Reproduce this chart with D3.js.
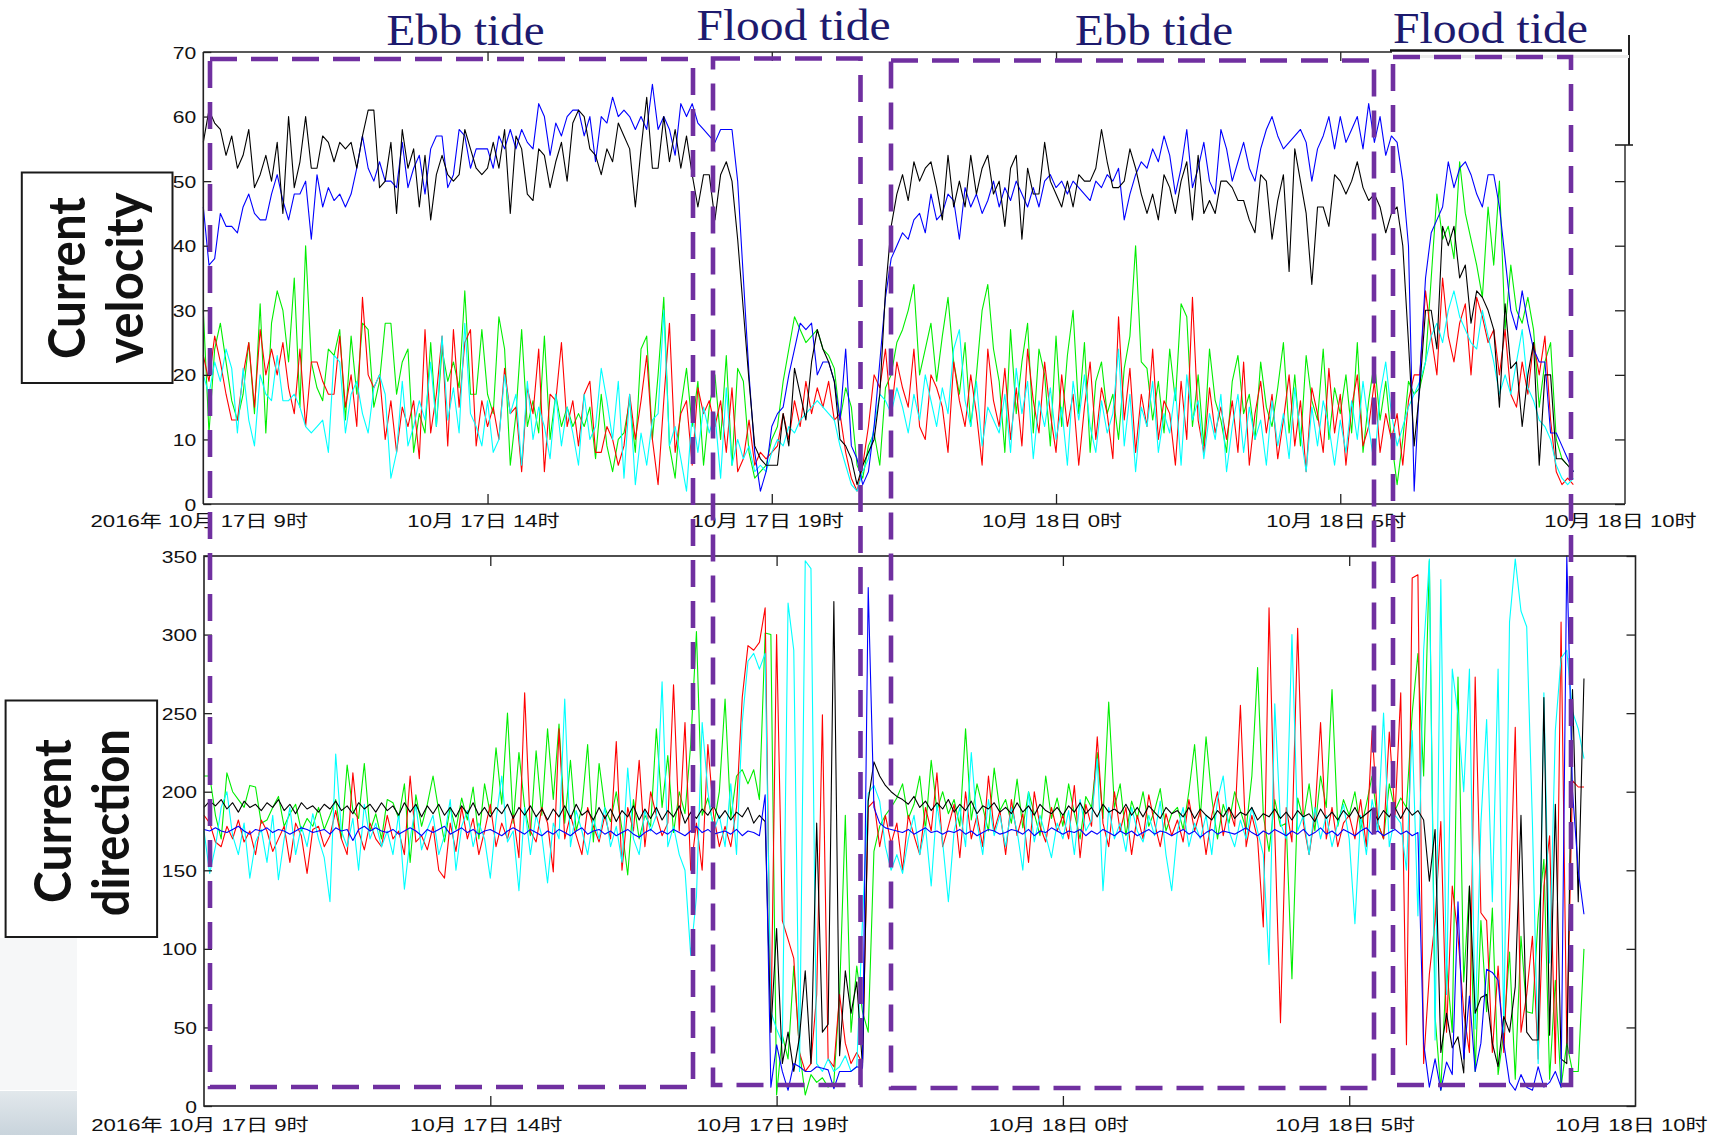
<!DOCTYPE html>
<html><head><meta charset="utf-8">
<script src="https://cdn.jsdelivr.net/npm/d3@7/dist/d3.min.js"></script>
<style>body{margin:0;background:#fff}svg{display:block}</style>
</head><body>
<svg id="c" width="1712" height="1135"></svg>
<script>
// ---------- DATA ----------
// samples every 6 minutes starting 2016-10-17 09:00
const tickLabels = ["2016年 10月 17日 9时","10月 17日 14时","10月 17日 19时","10月 18日 0时","10月 18日 5时","10月 18日 10时"];
const tickHours = [0,5,10,15,20,25];
const velTicks = [0,10,20,30,40,50,60,70];
const dirTicks = [0,50,100,150,200,250,300,350];
const tideLabels = ["Ebb tide","Flood tide","Ebb tide","Flood tide"];
const boxLabels = [["Current","velocity"],["Current","direction"]];

const velBlue = [
46,37,38,45,43,43,42,46,48,45, 44,44,48,51,47,44,48,48,50,41, 51,46,49,47,48,46,48,52,57,52,
50,53,50,50,49,56,49,52,54,48, 55,57,57,49,51,58,57,52,55,55, 55,52,57,55,58,55,58,56,55,62,
60,54,59,57,60,61,61,57,60,53, 60,59,63,60,61,60,58,60,58,65, 58,60,58,54,62,60,62,59,58,57,
56,58,58,58,50,35,20,8,2,5, 12,14,15,20,24,28,27,28,20,22, 22,19,13,24,9,7,3,5,12,22,
32,38,40,42,41,44,45,42,48,44, 45,48,47,41,49,46,48,45,47,50, 46,49,47,50,48,46,49,46,50,51,
49,50,48,50,49,48,47,50,49,51, 50,52,44,48,51,53,52,55,53,57, 54,48,52,58,49,52,56,50,48,58,
55,50,53,56,52,50,55,58,60,57, 55,56,57,58,56,50,55,57,60,55, 60,56,58,60,55,62,56,60,54,57,
56,50,40,2,20,35,42,44,46,53, 49,52,53,51,48,46,51,51,46,38, 30,27,33,28,24,22,22,11,11,9, 7,5];

const velBlack = [
56,61,59,58,54,57,52,54,58,49, 51,54,50,56,45,60,49,53,60,52, 52,57,56,53,56,55,56,52,57,61,
61,49,50,56,45,58,52,55,46,54, 44,51,54,51,50,51,58,55,52,51, 52,56,52,58,45,57,55,48,47,55,
54,49,53,56,50,59,61,60,55,54, 51,55,53,59,57,55,46,55,63,52, 52,60,53,58,52,57,51,46,51,51,
44,51,53,50,41,30,19,9,7,6, 6,6,14,9,21,17,13,22,27,24, 22,19,10,9,7,3,6,8,10,17,
33,43,48,51,47,53,50,52,53,49, 44,54,46,50,46,54,48,52,54,48, 50,43,52,54,41,52,48,48,56,50,
48,46,50,46,51,50,50,52,58,53, 49,49,50,55,52,48,45,48,44,51, 49,45,50,53,44,54,45,47,45,50,
50,49,47,47,44,42,51,50,41,47, 51,36,55,50,45,34,46,46,43,51, 50,48,50,53,49,47,48,46,42,45,
46,40,25,9,18,30,30,24,43,40, 43,35,37,28,33,32,30,27,15,31, 21,22,12,20,25,6,20,20,7,7, 6,5];

const velRed = [
23,19,26,22,17,13,13,20,25,15, 27,20,24,20,25,18,14,24,12,22, 22,19,17,17,26,15,20,12,32,20,
18,20,10,16,8,15,12,16,7,27, 11,17,26,9,27,15,25,27,9,16, 12,15,10,21,14,15,5,18,14,24,
5,17,16,25,12,16,9,17,19,8, 8,12,10,6,9,17,10,16,23,10, 3,16,28,8,14,16,6,18,14,16,
12,16,8,18,5,7,13,6,8,7, 8,9,14,10,16,12,19,14,18,15, 19,13,14,8,4,2,6,12,20,18,
24,14,22,18,15,24,12,10,20,18, 15,8,22,16,12,20,14,6,24,16, 12,21,10,18,9,24,16,11,22,14,
8,20,12,17,6,15,22,10,18,14, 7,29,13,21,8,17,12,24,10,16, 14,6,19,10,32,13,8,18,11,15,
10,16,8,22,6,14,19,11,17,7, 13,20,9,16,5,18,14,8,21,11, 17,6,15,20,9,12,19,8,14,10,
14,6,16,20,20,33,26,20,35,26, 22,28,31,20,32,29,25,27,20,27, 17,15,22,17,25,20,26,13,5,3, 4,3];

const velGreen = [
30,11,24,28,22,16,13,17,25,14, 31,11,28,33,30,22,35,15,40,22, 18,16,24,23,27,13,26,17,28,27,
15,19,28,28,17,22,24,8,14,11, 25,12,24,19,22,18,33,17,17,27, 17,14,29,24,6,14,27,12,16,11,
26,10,17,12,15,12,14,12,15,7, 17,9,5,10,11,16,8,24,26,10, 20,32,9,4,15,21,12,19,6,15,
20,10,23,6,21,19,8,4,5,6, 10,12,19,24,29,27,25,26,27,24, 23,21,13,18,15,6,4,9,11,6,
18,20,25,27,30,34,20,24,28,19, 26,32,22,17,25,12,20,30,34,24, 19,8,27,14,22,28,11,24,20,9,
26,12,23,30,14,25,8,19,22,14, 17,10,21,26,40,22,21,13,19,11, 24,16,31,29,12,20,9,24,16,13,
8,19,23,14,17,10,22,15,12,18, 25,11,20,9,23,16,13,24,10,18, 14,20,11,25,8,16,22,13,19,10,
3,10,19,17,18,22,35,48,41,43, 38,53,45,41,37,32,46,37,50,27, 37,30,28,32,27,15,22,25,10,7, 6,5];

const velCyan = [
20,17,22,19,24,21,11,21,13,9, 20,17,16,23,16,16,17,15,12,11, 12,13,8,23,22,11,17,19,14,11,
18,20,17,4,8,19,9,12,16,13, 22,12,26,13,18,11,28,14,12,9, 16,8,10,20,14,17,6,19,10,15,
12,7,17,9,15,11,6,17,10,12, 21,16,10,19,4,17,3,11,6,13, 14,30,9,12,7,2,14,8,15,11,
14,4,18,6,10,7,9,5,6,5, 8,10,9,12,11,13,14,15,16,15, 14,13,9,6,3,2,5,7,12,17,
16,14,18,15,11,17,13,20,16,12, 18,14,24,27,16,12,19,9,15,13, 11,17,8,21,14,19,7,16,12,18,
10,15,6,19,13,20,12,8,16,11, 14,24,9,17,5,15,12,19,8,14, 11,18,6,20,13,16,7,14,10,17,
5,12,17,8,15,10,13,6,16,9, 14,7,18,11,5,15,9,16,12,6, 13,8,16,10,19,12,6,17,22,14,
9,12,15,17,19,22,26,28,25,30, 33,29,27,25,24,30,26,22,17,20, 17,22,27,18,16,13,12,10,6,4, 3,4];

const dirBlack = [
190,194,191,195,189,193,187,194,190,192, 188,193,190,195,188,192,186,193,189,191, 187,192,189,194,188,191,186,193,189,192,
187,193,188,191,185,193,187,192,184,191, 186,192,185,190,184,191,186,193,185,190, 184,190,186,192,183,190,185,191,184,189,
182,189,184,191,183,192,185,188,182,190, 183,189,181,188,184,191,182,189,183,190, 182,188,184,191,180,187,183,189,185,191,
183,188,182,187,184,190,180,185,181,47, 113,27,47,22,44,86,27,180,47,52, 321,32,86,59,79,25,194,219,210,204,
200,197,195,192,197,190,194,188,193,189, 195,187,192,188,194,186,191,189,193,187, 190,186,193,187,191,185,192,188,186,190,
185,191,187,193,186,190,184,192,187,189, 186,192,185,190,184,191,187,183,190,186, 188,184,190,183,189,185,182,188,184,190,
183,187,185,190,182,186,184,189,183,187, 182,188,184,186,181,189,183,187,182,188, 184,190,183,186,189,182,188,184,190,183,
190,185,188,182,143,176,34,59,37,44, 21,140,59,69,71,40,25,57,47,76, 185,47,42,42,260,45,192,30,27,265, 130,272];

const dirBlue = [
176,175,177,175,174,176,178,175,173,176, 175,177,174,176,175,173,175,177,176,174, 175,176,173,177,175,176,169,176,178,175,
177,175,174,176,173,175,177,175,172,176, 174,176,178,173,175,177,174,176,173,175, 176,174,172,175,177,175,173,176,174,172,
175,173,176,174,172,175,177,173,175,176, 173,175,172,174,176,173,171,174,176,173, 175,173,176,174,172,175,178,174,176,173,
174,175,173,176,172,175,174,172,198,12, 39,22,10,27,25,22,22,25,24,23, 11,22,22,22,25,24,330,190,180,177,
176,175,174,176,173,175,177,174,175,173, 175,174,176,173,175,172,174,176,175,173, 174,176,175,173,176,172,175,174,177,175,
173,175,174,176,172,175,173,176,174,172, 175,173,175,172,174,176,173,175,174,172, 174,176,173,175,171,174,176,173,175,174,
173,175,177,174,172,175,173,176,174,172, 175,173,176,172,174,177,173,175,172,176, 174,172,175,177,173,175,172,174,176,173,
175,172,174,40,12,30,10,28,20,130, 30,70,22,40,87,85,80,40,15,10, 20,12,10,25,12,15,22,12,350,200, 150,122];

const dirGreen = [
210,210,185,170,212,200,195,190,204,203, 180,182,190,197,178,186,192,175,183,178, 190,176,185,195,170,217,188,183,218,175,
186,170,195,193,183,205,155,198,178,192, 210,188,168,190,176,196,182,203,170,205, 186,228,192,250,180,225,190,172,226,185,
240,195,243,180,220,175,190,230,168,218, 190,181,200,176,147,195,170,185,178,240, 190,223,174,200,186,230,302,185,196,178,
200,259,183,210,214,205,214,195,301,300, 7,45,30,89,35,7,20,15,18,12, 15,71,185,47,89,60,47,162,178,185,
190,196,205,183,192,210,176,220,188,200, 186,195,178,240,182,205,190,175,215,188, 195,180,208,177,200,186,172,210,183,196,
178,205,186,170,197,190,225,183,257,190, 205,172,194,183,200,178,188,202,175,186, 190,176,200,230,184,235,196,170,192,180,
200,188,176,210,279,185,162,195,178,180, 81,196,182,205,175,210,190,265,178,195, 185,200,176,192,210,180,170,205,188,196,
190,250,288,210,347,57,10,90,47,273, 79,140,22,118,60,126,20,47,98,17, 108,60,59,120,157,17,80,12,40,22, 22,100];

const dirRed = [
185,180,168,165,178,170,182,168,175,160, 182,175,162,170,178,155,180,172,148,176, 178,165,172,188,170,160,212,175,163,180,
170,165,185,170,175,160,210,168,172,163, 178,150,145,180,162,190,170,183,160,175, 192,165,180,170,185,158,263,175,168,190,
180,149,240,170,185,172,160,190,178,168, 185,170,232,150,190,175,220,165,200,185, 172,180,268,175,244,150,180,150,230,185,
165,178,165,190,260,293,290,295,317,47, 300,118,106,94,34,22,27,71,249,30, 25,71,40,27,34,27,190,194,165,185,
167,180,150,185,172,160,190,175,212,165, 178,192,158,200,170,185,165,210,175,188, 160,195,172,186,155,200,178,168,190,175,
185,170,204,158,192,178,235,180,165,200, 175,190,160,185,170,198,180,165,186,172, 182,168,195,175,188,160,185,200,172,190,
178,255,165,185,170,114,317,175,53,190, 168,304,180,160,185,244,170,190,165,180, 185,170,195,165,239,180,170,238,185,263,
39,336,338,27,84,118,181,47,140,108, 60,34,273,123,118,34,89,34,120,241, 47,71,108,30,140,172,27,308,40,207, 203,203];

const dirCyan = [
175,148,165,190,200,172,160,180,145,168, 176,155,185,144,170,190,160,178,165,186, 170,158,130,224,175,165,183,150,192,170,
180,165,175,160,186,138,170,192,163,176, 185,160,172,195,150,178,188,165,180,170, 145,182,210,168,175,137,190,160,185,172,
142,180,170,259,165,188,175,160,183,170, 190,165,178,155,215,170,160,188,175,185, 270,165,178,160,150,96,133,244,200,175,
185,165,205,160,244,283,288,278,288,60, 49,40,320,290,22,347,342,27,22,30, 22,25,32,22,25,118,199,204,194,165,
150,160,148,170,185,160,178,140,192,168, 130,175,190,165,225,180,160,195,172,185, 165,190,175,150,200,168,185,172,158,180,
170,188,160,195,175,182,221,137,190,170, 180,162,190,175,168,185,172,194,160,137, 175,190,165,180,170,185,160,195,210,175,
165,182,170,190,175,160,90,256,180,170, 300,175,185,160,190,170,185,165,180,192, 170,116,185,160,195,175,250,165,185,180,
150,239,121,290,348,42,335,71,278,249, 200,278,49,180,246,130,278,47,308,348, 315,305,180,27,263,91,239,285,290,251, 240,221];

// ---------- CHART ----------
const svg = d3.select('#c');
const t0 = new Date(2016, 9, 17, 9, 0, 0);
const tEnd = new Date(2016, 9, 18, 10, 0, 0);
const stepMs = 6 * 60 * 1000;
const atHour = h => new Date(t0.getTime() + h * 3600000);
const tickDates = tickHours.map(atHour);

const xTop = d3.scaleTime().domain([t0, tEnd]).range([203.3, 1624.5]);
const yTop = d3.scaleLinear().domain([0, 70]).range([504, 52]);
const xBot = d3.scaleTime().domain([t0, tEnd]).range([204, 1635.5]);
const yBot = d3.scaleLinear().domain([0, 350]).range([1106, 556]);

const FONT = '"Liberation Sans", Arial, "Noto Sans CJK SC", sans-serif';

// background decorations bottom-left
const defs = svg.append('defs');
const grad = defs.append('linearGradient').attr('id', 'bg').attr('x1', 0).attr('x2', 0).attr('y1', 0).attr('y2', 1);
grad.append('stop').attr('offset', '0%').attr('stop-color', '#e2e8ec');
grad.append('stop').attr('offset', '100%').attr('stop-color', '#c9d4dc');
svg.append('rect').attr('x', 0).attr('y', 938).attr('width', 77).attr('height', 152).attr('fill', '#f6f7f8');
svg.append('rect').attr('x', 0).attr('y', 1091).attr('width', 77).attr('height', 44).attr('fill', 'url(#bg)');

function stretch(sel, f) {
  sel.each(function () {
    const w = this.getComputedTextLength();
    this.setAttribute('textLength', w * f);
    this.setAttribute('lengthAdjust', 'spacingAndGlyphs');
  });
}

function drawLines(g, x, y, series) {
  series.forEach(([vals, color]) => {
    const line = d3.line().x((d, i) => x(new Date(t0.getTime() + i * stepMs))).y(d => y(d));
    g.append('path').datum(vals).attr('fill', 'none').attr('stroke', color)
      .attr('stroke-width', 1.1).attr('stroke-linejoin', 'round').attr('d', line);
  });
}

// ---- top panel ----
const gTop = svg.append('g');
drawLines(gTop, xTop, yTop, [[velGreen, '#00ee00'], [velRed, '#ff0000'], [velCyan, '#00ffff'], [velBlue, '#0000ff'], [velBlack, '#000000']]);

const axTopL = svg.append('g').attr('transform', 'translate(203.3,0)')
  .call(d3.axisLeft(yTop).tickValues(velTicks).tickSize(-8).tickPadding(7).tickFormat(d3.format('d')));
const axTopR = svg.append('g').attr('transform', 'translate(1625,0)')
  .call(d3.axisRight(yTop).tickValues([0,10,20,30,40,50]).tickSize(-10).tickFormat(''));
const axTopB = svg.append('g').attr('transform', 'translate(0,504)')
  .call(d3.axisBottom(xTop).tickValues(tickDates.slice(1, 5)).tickSize(-10).tickFormat(''));
const axTopT = svg.append('g').attr('transform', 'translate(0,52)')
  .call(d3.axisTop(xTop).tickValues(tickDates.slice(1, 5)).tickSize(-9).tickFormat(''));

// ---- bottom panel ----
const gBot = svg.append('g');
drawLines(gBot, xBot, yBot, [[dirGreen, '#00ee00'], [dirRed, '#ff0000'], [dirCyan, '#00ffff'], [dirBlack, '#000000'], [dirBlue, '#0000ff']]);

const axBotL = svg.append('g').attr('transform', 'translate(204,0)')
  .call(d3.axisLeft(yBot).tickValues(dirTicks).tickSize(-8).tickPadding(7).tickFormat(d3.format('d')));
const axBotR = svg.append('g').attr('transform', 'translate(1635.5,0)')
  .call(d3.axisRight(yBot).tickValues(dirTicks).tickSize(-9).tickFormat(''));
const axBotB = svg.append('g').attr('transform', 'translate(0,1106)')
  .call(d3.axisBottom(xBot).tickValues(tickDates.slice(1, 5)).tickSize(-10).tickFormat(''));
const axBotT = svg.append('g').attr('transform', 'translate(0,556)')
  .call(d3.axisTop(xBot).tickValues(tickDates.slice(1, 5)).tickSize(-10).tickFormat(''));

[axTopL, axTopR, axTopB, axTopT, axBotL, axBotR, axBotB, axBotT].forEach(a => {
  a.select('.domain').remove();
  a.selectAll('line').attr('stroke', '#222').attr('stroke-width', 1.3);
});
[axTopL, axBotL].forEach(a => {
  a.selectAll('text').attr('font-family', FONT).attr('font-size', 17).attr('fill', '#111').attr('dy', '0.36em');
  stretch(a.selectAll('text'), 1.24);
});

// x tick labels
function xLabels(x, yBase) {
  svg.append('g').selectAll('text').data(tickDates).join('text')
    .attr('x', d => x(d) - 4).attr('y', yBase).attr('text-anchor', 'middle')
    .attr('font-family', FONT).attr('font-size', 17).attr('fill', '#111')
    .text((d, i) => tickLabels[i])
    .call(s => stretch(s, 1.3));
}
xLabels(xTop, 527);
xLabels(xBot, 1131);

// frames
const frame = svg.append('g').attr('stroke', '#222').attr('fill', 'none');
frame.append('line').attr('x1', 203.3).attr('y1', 52).attr('x2', 203.3).attr('y2', 504).attr('stroke-width', 1.6);
frame.append('line').attr('x1', 203.3).attr('y1', 504).attr('x2', 1625).attr('y2', 504).attr('stroke-width', 1.6);
frame.append('line').attr('x1', 203.3).attr('y1', 52).attr('x2', 1392).attr('y2', 52).attr('stroke-width', 1.6);
frame.append('line').attr('x1', 1390).attr('y1', 50.5).attr('x2', 1622).attr('y2', 50.5).attr('stroke-width', 2.4).attr('stroke', '#111');
frame.append('line').attr('x1', 1625).attr('y1', 145).attr('x2', 1625).attr('y2', 504).attr('stroke-width', 1.4);
frame.append('line').attr('x1', 1629).attr('y1', 35).attr('x2', 1629).attr('y2', 145).attr('stroke-width', 2);
frame.append('line').attr('x1', 1615).attr('y1', 145).attr('x2', 1633).attr('y2', 145).attr('stroke-width', 1.6);
frame.append('line').attr('x1', 1393).attr('y1', 56.5).attr('x2', 1629).attr('y2', 56.5).attr('stroke', '#ececec').attr('stroke-width', 3);
frame.append('rect').attr('x', 204).attr('y', 556).attr('width', 1431.5).attr('height', 550).attr('stroke-width', 1.6);

// tide titles
const tidePos = [[386.5, 44.5, 158], [696.5, 39.7, 194], [1075, 44.8, 158], [1393, 43.3, 195]];
svg.append('g').selectAll('text').data(tideLabels).join('text')
  .attr('x', (d, i) => tidePos[i][0]).attr('y', (d, i) => tidePos[i][1])
  .attr('textLength', (d, i) => tidePos[i][2]).attr('lengthAdjust', 'spacingAndGlyphs')
  .attr('font-family', '"Liberation Serif", "Times New Roman", serif').attr('font-size', 44)
  .attr('fill', '#1d1a6e').text(d => d);

// purple dashed tide boxes
const boxes = [[210, 59, 693, 1087], [713, 58.5, 860.5, 1085], [891, 60.5, 1374, 1088], [1393, 57, 1571, 1085]];
svg.append('g').selectAll('rect').data(boxes).join('rect')
  .attr('x', d => d[0]).attr('y', d => d[1]).attr('width', d => d[2] - d[0]).attr('height', d => d[3] - d[1])
  .attr('fill', 'none').attr('stroke', '#7030a0').attr('stroke-width', 4.6).attr('stroke-dasharray', '27,14');

// label boxes
const lbl = [
  {x: 21.8, y: 172.5, w: 150.7, h: 210.5, lines: [[85, 278, 162], [143, 278, 171]]},
  {x: 5.6, y: 700.5, w: 151.5, h: 236.5, lines: [[71, 821, 164], [128.6, 822.7, 187]]}
];
lbl.forEach((b, k) => {
  svg.append('rect').attr('x', b.x).attr('y', b.y).attr('width', b.w).attr('height', b.h)
    .attr('fill', '#fff').attr('stroke', '#1a1a1a').attr('stroke-width', 2);
  b.lines.forEach((ln, j) => {
    svg.append('text').attr('transform', `translate(${ln[0]},${ln[1]}) rotate(-90)`)
      .attr('text-anchor', 'middle').attr('font-family', 'Lato, "Open Sans", sans-serif')
      .attr('font-weight', 700).attr('font-size', 51).attr('fill', '#111')
      .attr('textLength', ln[2]).attr('lengthAdjust', 'spacingAndGlyphs')
      .text(boxLabels[k][j]);
  });
});
</script>
</body></html>
